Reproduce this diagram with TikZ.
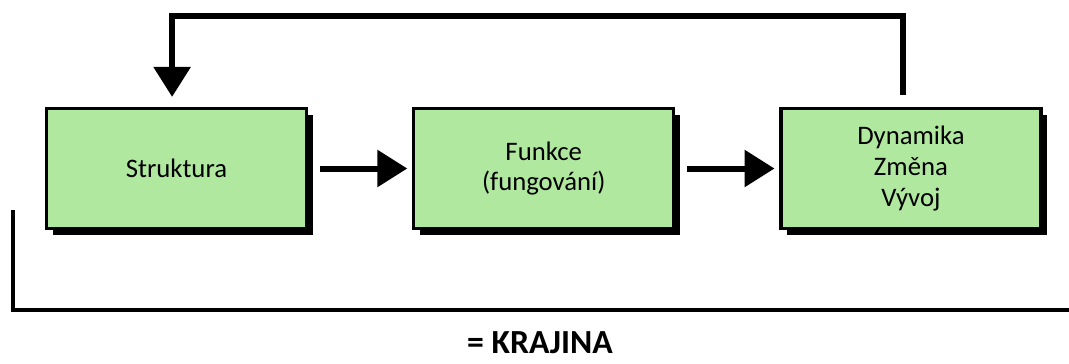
\documentclass[tikz,border=0pt]{standalone}
\usepackage{fontspec}
\setmainfont{Carlito}
\usetikzlibrary{positioning}
\usetikzlibrary{shadows}
\usetikzlibrary{arrows.meta}
\definecolor{boxgreen}{RGB}{176,232,160}
\tikzset{
  block/.style={draw,line width=0.8mm,fill=boxgreen,minimum width=65mm,minimum height=30mm,align=center,
    font=\fontsize{19}{22}\selectfont,
    drop shadow={opacity=1,fill=black,shadow xshift=1.6mm,shadow yshift=-1.6mm}},
  arrow/.style={-{Triangle[length=7.5mm,width=9mm]},line width=1.5mm}
}
\begin{document}
\begin{tikzpicture}[x=0.25mm,y=-0.25mm,node distance=26mm]
  \useasboundingbox (0,0) rectangle (1069,363);
  \node[block](struktura) at (176.5,168.5) {Struktura};
  \node[block,right= of struktura](funkce) {Funkce\\(fungování)};
  \node[block,right= of funkce](dynamika) {Dynamika\\Změna\\Vývoj};
  \coordinate (top) at (500,16);
  \coordinate (bl) at (13,210);
  \coordinate (br) at (1069,310);
  \node[font=\bfseries\fontsize{24}{28}\selectfont](krajina) at (540,343) {= KRAJINA};
  \draw[arrow,shorten <=3mm,shorten >=1.2mm] (struktura)--(funkce);
  \draw[arrow,shorten <=3mm,shorten >=1.2mm] (funkce)--(dynamika);
  \draw[arrow,shorten >=2.5mm] ([xshift=-2.1mm,yshift=3mm]dynamika.north) |- (top) -| ([xshift=-1.1mm]struktura.north);
  \draw[line width=1mm] (bl) |- (br);
\end{tikzpicture}
\end{document}
